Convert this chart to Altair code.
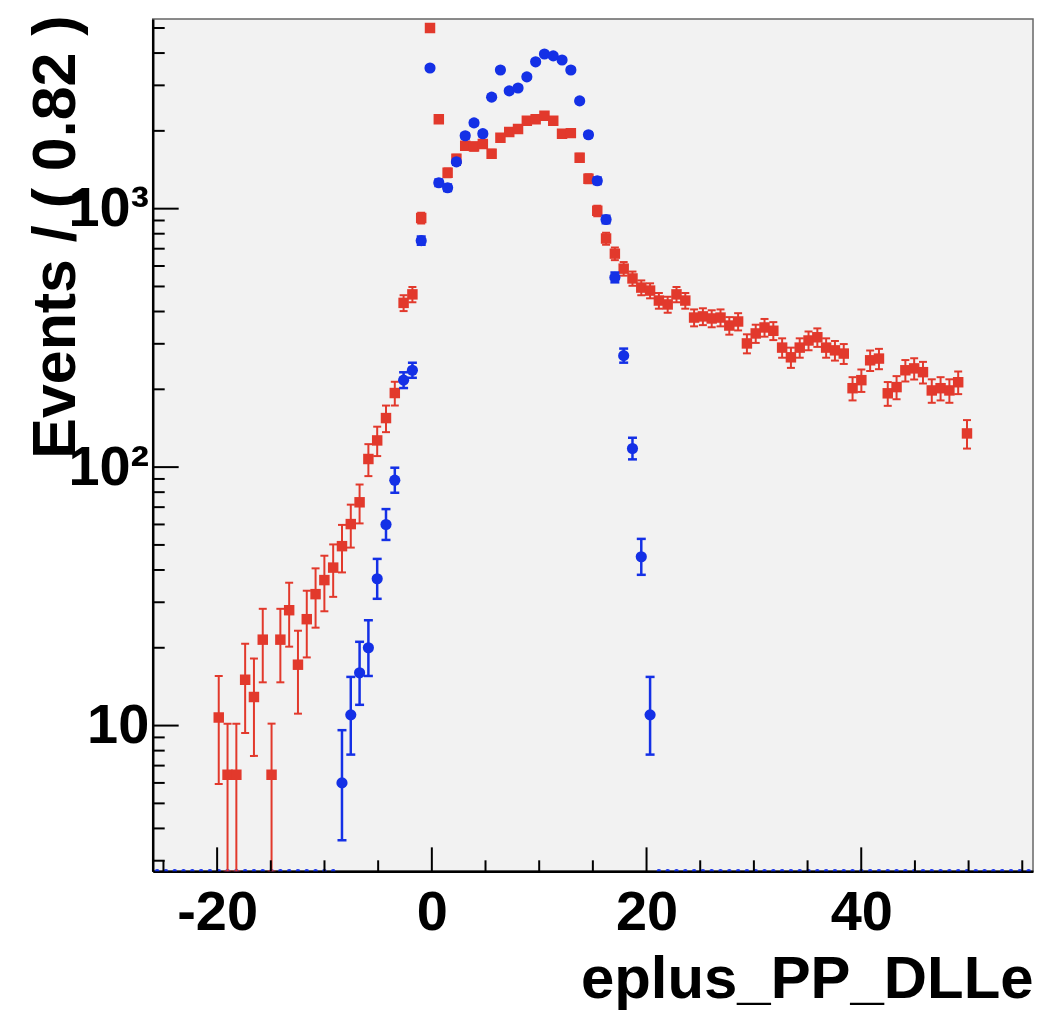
import math
import altair as alt
import pandas as pd

# ---------------- data ----------------
X_MIN, X_MAX = -26.0, 56.0
BIN_WIDTH = 0.82
N_BINS = 100
Y_MIN, Y_MAX = 2.73, 5420.0
RED_WEIGHT = 2.15  # per-event weight of the red (weighted) sample

red_first_bin = 7
red_values = [
    10.75, 6.45, 6.45, 15.05, 12.9, 21.5, 6.45, 21.5, 27.95, 17.2,
    25.8, 32.25, 36.55, 40.85, 49.45, 60.2, 73.1, 107.5, 126.85, 154.8,
    193.5, 432, 466, 920, 5000, 2220, 1377, 1560, 1750, 1740,
    1780, 1630, 1880, 1980, 2035, 2187, 2220, 2286, 2187, 1950,
    1960, 1574, 1306, 981, 766, 670, 586, 537, 495, 482,
    441, 426, 466, 441, 379, 383, 376, 379, 353, 366,
    301, 329, 347, 337, 290, 266, 290, 309, 318, 290,
    283, 275, 202, 217, 259, 263, 193, 204, 237, 241,
    233, 198, 202, 198, 213, 135,
]

blue_first_bin = 21
blue_counts = [
    6, 11, 16, 20, 37, 60, 89, 217, 237, 752,
    3500, 1260, 1205, 1517, 1914, 2148, 1950, 2700, 3440, 2855,
    2930, 3236, 3700, 3966, 3900, 3760, 3440, 2612, 1932, 1282,
    908, 542, 270, 118, 45, 11,
]

y_major = [10, 100, 1000]
y_minor = [3, 4, 5, 6, 7, 8, 9, 20, 30, 40, 50, 60, 70, 80, 90,
           200, 300, 400, 500, 600, 700, 800, 900, 2000, 3000, 4000, 5000]
x_major = [-20, 0, 20, 40]
x_minor = [-25, -15, -10, -5, 5, 10, 15, 25, 30, 35, 45, 50, 55]

X_TITLE = "eplus_PP_DLLe"
Y_TITLE = "Events / ( 0.82 )"

RED = "#e2392c"
BLUE = "#1430e6"
FONT = "Liberation Sans"

W, H = 882, 854


def center(i):
    return X_MIN + BIN_WIDTH * (i + 0.5)


red_rows = []
for k, v in enumerate(red_values):
    e = math.sqrt(v * RED_WEIGHT)
    red_rows.append({"x": center(red_first_bin + k), "y": v,
                     "lo": max(v - e, 0.5), "hi": v + e})
red_df = pd.DataFrame(red_rows)

blue_rows = []
for k, n in enumerate(blue_counts):
    blue_rows.append({"x": center(blue_first_bin + k), "y": n,
                      "lo": n - math.sqrt(n - 0.25), "hi": n + 1 + math.sqrt(n + 0.75)})
blue_df = pd.DataFrame(blue_rows)

blue_bins = set(range(blue_first_bin, blue_first_bin + len(blue_counts)))
zero_df = pd.DataFrame({"x": [center(i) for i in range(N_BINS) if i not in blue_bins]})
zero_df["y"] = Y_MIN

# ---------------- scales / axes ----------------
xscale = alt.Scale(domain=[X_MIN, X_MAX], nice=False, zero=False)
yscale = alt.Scale(type="log", domain=[Y_MIN, Y_MAX], nice=False)

xaxis = alt.Axis(
    values=x_major, ticks=False, grid=False, domain=True,
    domainColor="black", domainWidth=2.5,
    labelExpr="toString(datum.value)",
    labelFont=FONT, labelFontSize=56, labelFontWeight="bold", labelColor="black",
    labelPadding=14, labelOverlap=False, labelFlush=False,
    title=X_TITLE, titleFont=FONT, titleFontSize=60, titleFontWeight="bold",
    titleColor="black", titleAnchor="end", titleAlign="right",
    titleX=W, titleY=126, titleBaseline="alphabetic",
)
yaxis = alt.Axis(
    values=y_major, ticks=False, grid=False, domain=True,
    domainColor="black", domainWidth=2.5,
    labelExpr="datum.value == 1000 ? '10³' : (datum.value == 100 ? '10²' : '10')",
    labelFont=FONT, labelFontSize=56, labelFontWeight="bold", labelColor="black",
    labelPadding=4, labelOverlap=False, labelFlush=False, labelBaseline="middle",
    title=Y_TITLE, titleFont=FONT, titleFontSize=61, titleFontWeight="bold",
    titleColor="black", titleAngle=270, titleAnchor="end", titleAlign="right",
    titleX=-78, titleY=-4, titleBaseline="alphabetic",
)


def X(field):
    return alt.X(field, type="quantitative", scale=xscale, axis=xaxis)


def Y(field):
    return alt.Y(field, type="quantitative", scale=yscale, axis=yaxis)


# ---------------- layers ----------------
ytick_major = alt.Chart(pd.DataFrame({"v": y_major})).mark_rule(
    color="black", strokeWidth=2).encode(y=Y("v"), x=alt.value(0), x2=alt.value(26))
ytick_minor = alt.Chart(pd.DataFrame({"v": y_minor})).mark_rule(
    color="black", strokeWidth=2).encode(y=Y("v"), x=alt.value(0), x2=alt.value(12))
xtick_major = alt.Chart(pd.DataFrame({"v": x_major})).mark_rule(
    color="black", strokeWidth=2).encode(x=X("v"), y=alt.value(H), y2=alt.value(H - 24))
xtick_minor = alt.Chart(pd.DataFrame({"v": x_minor})).mark_rule(
    color="black", strokeWidth=2).encode(x=X("v"), y=alt.value(H), y2=alt.value(H - 11))

zero_pts = alt.Chart(zero_df).mark_circle(color=BLUE, opacity=1, size=22, clip=True).encode(
    x=X("x"), y=Y("y"))

red_bar = alt.Chart(red_df).mark_rule(color=RED, strokeWidth=2, clip=True).encode(
    x=X("x"), y=Y("lo"), y2="hi")
red_cap_lo = alt.Chart(red_df).mark_tick(color=RED, orient="horizontal", size=8,
                                         thickness=2, clip=True, opacity=1).encode(x=X("x"), y=Y("lo"))
red_cap_hi = alt.Chart(red_df).mark_tick(color=RED, orient="horizontal", size=8,
                                         thickness=2, clip=True, opacity=1).encode(x=X("x"), y=Y("hi"))
red_pts = alt.Chart(red_df).mark_square(color=RED, opacity=1, size=110, clip=True).encode(
    x=X("x"), y=Y("y"))

blue_bar = alt.Chart(blue_df).mark_rule(color=BLUE, strokeWidth=2.5, clip=True).encode(
    x=X("x"), y=Y("lo"), y2="hi")
blue_cap_lo = alt.Chart(blue_df).mark_tick(color=BLUE, orient="horizontal", size=9,
                                           thickness=2.5, clip=True, opacity=1).encode(x=X("x"), y=Y("lo"))
blue_cap_hi = alt.Chart(blue_df).mark_tick(color=BLUE, orient="horizontal", size=9,
                                           thickness=2.5, clip=True, opacity=1).encode(x=X("x"), y=Y("hi"))
blue_pts = alt.Chart(blue_df).mark_circle(color=BLUE, opacity=1, size=125, clip=True).encode(
    x=X("x"), y=Y("y"))

chart = alt.layer(
    zero_pts, red_bar, red_cap_lo, red_cap_hi, red_pts,
    blue_bar, blue_cap_lo, blue_cap_hi, blue_pts,
    ytick_major, ytick_minor, xtick_major, xtick_minor,
).properties(
    width=W, height=H,
    autosize=alt.AutoSizeParams(type="none"),
    padding={"left": 145, "top": 10, "right": 4, "bottom": 142},
    background="white",
).configure_view(fill="#f2f2f2", stroke="#666666", strokeWidth=1.5)

chart.save("out.html", embed_options={"renderer": "svg", "actions": False})
